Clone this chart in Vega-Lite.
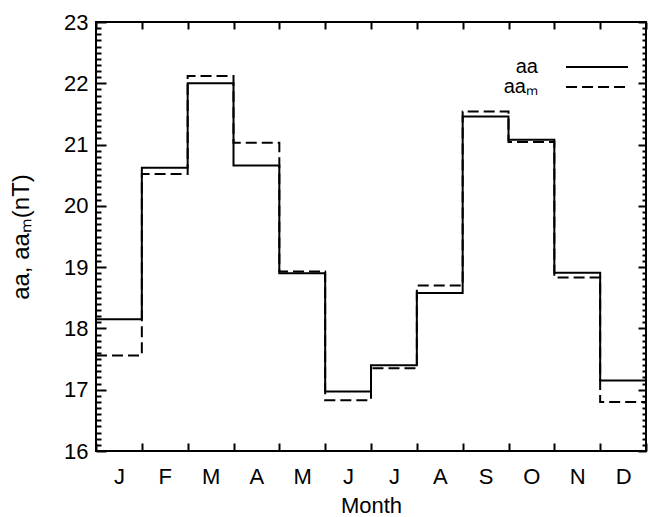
{
  "$schema": "https://vega.github.io/schema/vega-lite/v6.json",
  "width": 550,
  "height": 429,
  "autosize": {"type": "none"},
  "padding": {"left": 96, "top": 22, "right": 8, "bottom": 66},
  "background": "white",
  "config": {
    "font": "Liberation Sans",
    "view": {"stroke": "black", "strokeWidth": 2},
    "axis": {"domain": false, "grid": false, "ticks": true, "labelFlush": false, "labelOverlap": false, "labelColor": "black", "titleColor": "black", "tickColor": "black", "tickWidth": 2, "labelFontSize": 22, "titleFontSize": 22, "titleFontWeight": "normal", "labelFont": "Liberation Sans", "titleFont": "Liberation Sans"}
  },
  "resolve": {"axis": {"x": "independent", "y": "independent"}},
  "data": {
    "values": [
      {"m": 0, "value": 18.15, "series": "aa"},
      {"m": 1, "value": 20.62, "series": "aa"},
      {"m": 2, "value": 22.0, "series": "aa"},
      {"m": 3, "value": 20.66, "series": "aa"},
      {"m": 4, "value": 18.9, "series": "aa"},
      {"m": 5, "value": 16.97, "series": "aa"},
      {"m": 6, "value": 17.4, "series": "aa"},
      {"m": 7, "value": 18.58, "series": "aa"},
      {"m": 8, "value": 21.46, "series": "aa"},
      {"m": 9, "value": 21.08, "series": "aa"},
      {"m": 10, "value": 18.91, "series": "aa"},
      {"m": 11, "value": 17.15, "series": "aa"},
      {"m": 12, "value": 17.15, "series": "aa"},
      {"m": 0, "value": 17.56, "series": "aaₘ"},
      {"m": 1, "value": 20.52, "series": "aaₘ"},
      {"m": 2, "value": 22.12, "series": "aaₘ"},
      {"m": 3, "value": 21.03, "series": "aaₘ"},
      {"m": 4, "value": 18.93, "series": "aaₘ"},
      {"m": 5, "value": 16.83, "series": "aaₘ"},
      {"m": 6, "value": 17.35, "series": "aaₘ"},
      {"m": 7, "value": 18.7, "series": "aaₘ"},
      {"m": 8, "value": 21.54, "series": "aaₘ"},
      {"m": 9, "value": 21.04, "series": "aaₘ"},
      {"m": 10, "value": 18.83, "series": "aaₘ"},
      {"m": 11, "value": 16.8, "series": "aaₘ"},
      {"m": 12, "value": 16.8, "series": "aaₘ"}
    ]
  },
  "layer": [
    {
      "transform": [{"filter": "datum.series === 'aa'"}],
      "mark": {"type": "line", "interpolate": "step-after", "color": "black", "strokeWidth": 2},
      "encoding": {
        "x": {
          "field": "m", "type": "quantitative",
          "scale": {"domain": [0, 12], "nice": false, "zero": false},
          "axis": {
            "orient": "bottom", "title": "Month", "values": [0,1,2,3,4,5,6,7,8,9,10,11,12],
            "labelExpr": "['J','F','M','A','M','J','J','A','S','O','N','D',''][datum.value]",
            "labelOffset": 22.9, "labelPadding": 23, "tickSize": -8, "titlePadding": 8
          }
        },
        "y": {
          "field": "value", "type": "quantitative",
          "scale": {"domain": [16, 23], "nice": false, "zero": false},
          "axis": {
            "orient": "left", "title": "aa, aaₘ(nT)", "titleFontSize": 24,
            "values": [16,17,18,19,20,21,22,23],
            "labelPadding": 18, "tickSize": -10, "titlePadding": 30
          }
        },
        "strokeDash": {
          "field": "series", "type": "nominal",
          "scale": {"domain": ["aa", "aaₘ"], "range": [[1, 0], [11, 5]]},
          "legend": {
            "title": null, "orient": "none", "legendX": 491, "legendY": 35,
            "symbolType": "M-4,0H4", "symbolSize": 240, "symbolStrokeWidth": 2, "symbolStrokeColor": "black",
            "labelFontSize": 20, "labelAlign": "right", "labelOffset": -69, "labelColor": "black", "labelFont": "Liberation Sans",
            "rowPadding": 0
          }
        }
      }
    },
    {
      "transform": [{"filter": "datum.series !== 'aa'"}],
      "mark": {"type": "line", "interpolate": "step-after", "color": "black", "strokeWidth": 2},
      "encoding": {
        "x": {
          "field": "m", "type": "quantitative",
          "axis": {
            "orient": "top", "title": null, "labels": false, "values": [0,1,2,3,4,5,6,7,8,9,10,11,12], "tickSize": -7
          }
        },
        "y": {
          "field": "value", "type": "quantitative",
          "axis": {
            "orient": "right", "title": null, "labels": false, "tickSize": -8,
            "values": [16,17,18,19,20,21,22,23]
          }
        },
        "strokeDash": {"field": "series", "type": "nominal"}
      }
    },
    {
      "transform": [{"filter": "datum.series === 'aa'"}],
      "mark": {"type": "point", "opacity": 0},
      "encoding": {
        "x": {"field": "m", "type": "quantitative", "axis": null},
        "y": {
          "field": "value", "type": "quantitative",
          "axis": {
            "orient": "left", "title": null, "labels": false, "tickSize": -5,
            "values": [16.1,16.2,16.3,16.4,16.5,16.6,16.7,16.8,16.9,17.1,17.2,17.3,17.4,17.5,17.6,17.7,17.8,17.9,18.1,18.2,18.3,18.4,18.5,18.6,18.7,18.8,18.9,19.1,19.2,19.3,19.4,19.5,19.6,19.7,19.8,19.9,20.1,20.2,20.3,20.4,20.5,20.6,20.7,20.8,20.9,21.1,21.2,21.3,21.4,21.5,21.6,21.7,21.8,21.9,22.1,22.2,22.3,22.4,22.5,22.6,22.7,22.8,22.9]
          }
        }
      }
    },
    {
      "transform": [{"filter": "datum.series === 'aa'"}],
      "mark": {"type": "point", "opacity": 0},
      "encoding": {
        "x": {"field": "m", "type": "quantitative", "axis": null},
        "y": {
          "field": "value", "type": "quantitative",
          "axis": {
            "orient": "right", "title": null, "labels": false, "tickSize": -4,
            "values": [16.1,16.2,16.3,16.4,16.5,16.6,16.7,16.8,16.9,17.1,17.2,17.3,17.4,17.5,17.6,17.7,17.8,17.9,18.1,18.2,18.3,18.4,18.5,18.6,18.7,18.8,18.9,19.1,19.2,19.3,19.4,19.5,19.6,19.7,19.8,19.9,20.1,20.2,20.3,20.4,20.5,20.6,20.7,20.8,20.9,21.1,21.2,21.3,21.4,21.5,21.6,21.7,21.8,21.9,22.1,22.2,22.3,22.4,22.5,22.6,22.7,22.8,22.9]
          }
        }
      }
    }
  ]
}
